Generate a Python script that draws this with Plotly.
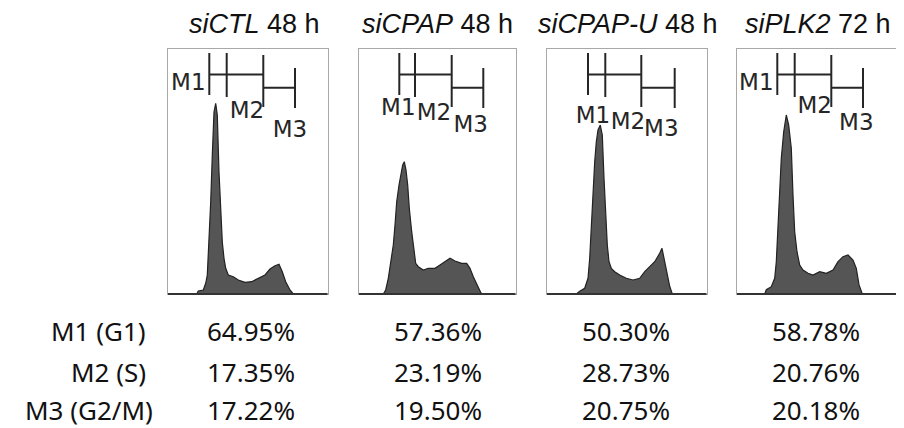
import plotly.graph_objects as go

# ---------------- data ----------------
titles = ["<i>siCTL</i> 48 h", "<i>siCPAP</i> 48 h", "<i>siCPAP-U</i> 48 h", "<i>siPLK2</i> 72 h"]

# histogram outlines (channel, count)
h1_x = [28.7, 30.3, 35.3, 37.7, 39.3, 41, 42.7, 44.3, 46, 47.7, 49.3, 51, 52.7, 54.3, 56, 57.7, 60.3, 65.3,
        70.3, 77, 83.7, 90.3, 97, 102, 107, 111, 114.3, 117.7, 122, 125.3]
h1_y = [0, 3, 4, 10.7, 19, 49, 92, 139, 182, 190.7, 179, 122, 75.7, 52, 35.7, 25.7, 19, 17.3,
        14, 11.7, 12.3, 15.7, 19, 25, 28.3, 29.7, 22.3, 12.3, 4, 0]

h2_x = [24.3, 26.7, 29.3, 32, 34.3, 36, 37.7, 40, 42, 43.7, 45.3, 47, 48.7, 50.3, 52.7, 55, 56.7, 59.3,
        64.3, 69.3, 76, 81, 86, 91, 96, 102.7, 107.7, 111, 114.3, 117.7, 122, 124.3]
h2_y = [0, 4, 15.7, 35.7, 49, 69, 92.3, 109, 119, 129, 132.3, 124, 109, 85.7, 62.3, 42.3, 30.7, 27.3,
        24, 25.7, 25.7, 29, 32.3, 35.7, 33, 30.7, 30.7, 25.7, 17.3, 9.3, 1, 0]

h3_x = [29.3, 32.7, 37.7, 41, 42.7, 44.3, 46, 47.7, 49.3, 51, 53.3, 55.3, 57, 58.7, 60.3, 62, 64.3, 67.7,
        72.7, 79.3, 86, 92.7, 97.7, 102.7, 107.7, 112.7, 115, 117.7, 120, 122.7, 125.3]
h3_y = [0, 2.7, 5.7, 15.7, 35.7, 69, 109, 132.3, 152.3, 164, 169, 159, 115.7, 79, 49, 32.3, 25.7, 22.3,
        19, 15.7, 14, 15.7, 22.3, 27.3, 32.3, 40.7, 45.7, 32.3, 19, 7.7, 0]

h4_x = [27.7, 29.3, 34.3, 37.7, 39.3, 41, 42.7, 44.3, 46.7, 49.3, 51.7, 54.3, 56, 57.7, 60, 62.7, 66, 71,
        76, 82.7, 89.3, 96, 101, 106, 111, 116, 119.3, 122, 125.3]
h4_y = [0, 4.3, 7.3, 15.7, 32.3, 65.7, 102.3, 135.7, 162.3, 179, 169, 145.7, 99, 62.3, 42.3, 29, 24, 20.7,
        19, 22.3, 20.7, 24, 32.3, 37.3, 39, 34, 25.7, 9.3, 0]

# gate markers: M1 start, M1 end / M2 start, M2 end / M3 start, M3 end (channels)
m1_start = [41.3, 40.3, 41.0, 40.3]
m1_end = [58.7, 56.0, 58.3, 57.7]
m2_end = [95.3, 92.7, 94.3, 94.3]
m3_end = [127.0, 124.3, 127.7, 126.0]

# marker label positions (channel, count)
lab_m1 = [(20.3, 210), (39.3, 185), (46.0, 177), (19.3, 210)]
lab_m2 = [(79.0, 181.5), (75.0, 180), (81.0, 170.7), (77.7, 186.7)]
lab_m3 = [(122.0, 163), (111.7, 168), (114.3, 163.3), (119.3, 170)]

row_labels = ["M1 (G1)", "M2 (S)", "M3 (G2/M)"]
m1_pct = ["64.95%", "57.36%", "50.30%", "58.78%"]
m2_pct = ["17.35%", "23.19%", "28.73%", "20.76%"]
m3_pct = ["17.22%", "19.50%", "20.75%", "20.18%"]

# ---------------- layout ----------------
OFF = 8                      # page body margin
W, H = 904 - OFF, 428 - OFF
def px_x(v):
    return (v - OFF) / W
def px_y(v):
    return 1 - (v - OFF) / H

panels_px = [(168, 327.5), (359, 515.5), (547, 706.5), (737, 896.5)]
top_px, bot_px = 49, 294
title_cx = [254.7, 437.5, 628, 818]
col_cx = [251, 437.5, 626, 816]
row_cy = [331, 372, 410]
row_rx = [148, 148, 155]

hx = [h1_x, h2_x, h3_x, h4_x]
hy = [h1_y, h2_y, h3_y, h4_y]

fig = go.Figure()
annotations = []
shapes = []
ink = "#262626"

for i in range(4):
    ax = "" if i == 0 else str(i + 1)
    xa, ya = "x" + ax, "y" + ax
    L, R = panels_px[i]
    fig.add_trace(go.Scatter(x=hx[i], y=hy[i], mode="lines", fill="tozeroy",
                             fillcolor="#555555", line=dict(color="#222222", width=1.2),
                             xaxis=xa, yaxis=ya, hoverinfo="skip", showlegend=False))
    # gate brackets
    s, e1, e2, e3 = m1_start[i], m1_end[i], m2_end[i], m3_end[i]
    bx = [s, s, None, e1, e1, None, s, e2, None, e2, e2, None, e2, e3, None, e3, e3]
    by = [199, 241, None, 197, 241, None, 219.5, 219.5, None, 187, 239, None, 206.3, 206.3, None, 186, 226]
    fig.add_trace(go.Scatter(x=bx, y=by, mode="lines", line=dict(color=ink, width=2),
                             xaxis=xa, yaxis=ya, hoverinfo="skip", showlegend=False))
    fig.add_trace(go.Scatter(x=[lab_m1[i][0], lab_m2[i][0], lab_m3[i][0]],
                             y=[lab_m1[i][1], lab_m2[i][1], lab_m3[i][1]],
                             mode="text", text=["M1", "M2", "M3"],
                             textfont=dict(family="DejaVu Sans", size=23, color=ink),
                             textposition="middle center",
                             xaxis=xa, yaxis=ya, hoverinfo="skip", showlegend=False))
    axis_common = dict(showgrid=False, zeroline=False, showticklabels=False, ticks="",
                       showline=True, linecolor="#a8a8a8", linewidth=1, mirror=True, fixedrange=True)
    fig.layout["xaxis" + ax] = dict(domain=[px_x(L), px_x(R)], range=[0, R - L], anchor=ya, **axis_common)
    fig.layout["yaxis" + ax] = dict(domain=[px_y(bot_px), px_y(top_px)], range=[0, bot_px - top_px],
                                    anchor=xa, **axis_common)
    shapes.append(dict(type="line", xref=xa + " domain", yref=ya + " domain", x0=0, x1=1, y0=0, y1=0,
                       line=dict(color="#333333", width=2)))
    annotations.append(dict(text=titles[i], x=px_x(title_cx[i]), y=px_y(24), xref="paper", yref="paper",
                            xanchor="center", yanchor="middle", showarrow=False,
                            font=dict(family="Liberation Sans", size=27, color="#111111")))
    for r, vals in enumerate([m1_pct, m2_pct, m3_pct]):
        annotations.append(dict(text=vals[i], x=px_x(col_cx[i]), y=px_y(row_cy[r]), xref="paper",
                                yref="paper", xanchor="center", yanchor="middle", showarrow=False,
                                font=dict(family="Noto Sans", size=26, color="#111111")))

for r, lab in enumerate(row_labels):
    annotations.append(dict(text=lab, x=px_x(row_rx[r]), y=px_y(row_cy[r]), xref="paper", yref="paper",
                            xanchor="right", yanchor="middle", showarrow=False,
                            font=dict(family="Noto Sans", size=26, color="#111111")))

fig.update_layout(width=W, height=H, margin=dict(l=0, r=0, t=0, b=0),
                  paper_bgcolor="white", plot_bgcolor="white",
                  annotations=annotations, shapes=shapes, showlegend=False)

fig.write_html("out.html", config={"displayModeBar": False})
